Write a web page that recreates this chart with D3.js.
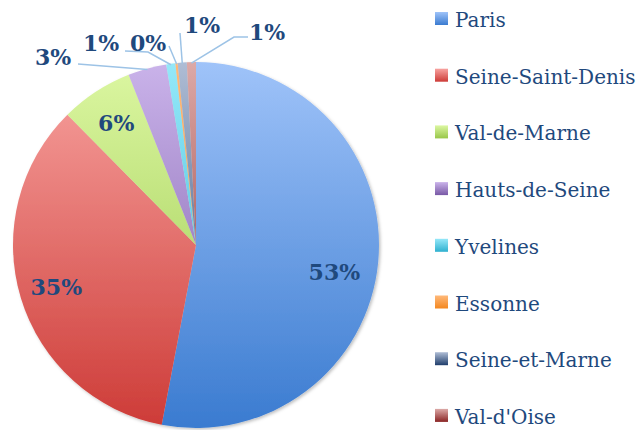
<!DOCTYPE html>
<html>
<head>
<meta charset="utf-8">
<script src="https://cdn.jsdelivr.net/npm/d3@7"></script>
<style>
  body { margin: 0; background: #fff; }
  svg { display: block; }
</style>
</head>
<body>
<div class="piechart"></div>
<script>
// data
const departements = ["Paris", "Seine-Saint-Denis", "Val-de-Marne", "Hauts-de-Seine",
                      "Yvelines", "Essonne", "Seine-et-Marne", "Val-d'Oise"];
const shares = [53.0, 34.6, 6.4, 3.4, 0.8, 0.2, 0.8, 0.8];
const colourTop = ["#9fc3f9", "#f8a3a0", "#dcf7a2", "#cab3ea", "#95e8f9", "#ffb97a", "#afbdd5", "#dca9a7"];
const colourBottom = ["#3a7bd0", "#cd3b37", "#98c649", "#7858a5", "#2eb0cf", "#f3871f", "#1f3d6b", "#8a2424"];

const width = 637, height = 430;
const cx = 196, cy = 245, radius = 183;
const labelRadius = 146;
const textColour = "#1f497d";
const leaderColour = "#9dc3e6";

// placement of the small slice labels (text centre + leader start / elbow)
const outside = {
  "Hauts-de-Seine": {x: 53, y: 57, line: [[78, 64]]},
  "Yvelines": {x: 101, y: 43, line: [[125, 51], [148, 52]]},
  "Essonne": {x: 148, y: 43, line: [[169, 46]]},
  "Seine-et-Marne": {x: 202, y: 25, line: [[180, 33]]},
  "Val-d'Oise": {x: 267, y: 32, line: [[248, 37], [234, 37]]}
};
const insideNudge = {"Paris": [-7, 13]};

const svg = d3.select(".piechart")
  .append("svg")
  .attr("width", width)
  .attr("height", height);

const defs = svg.append("defs");

// one vertical gradient per slice, spanning the whole pie (pie group coords)
departements.forEach(function(d, i) {
  const g = defs.append("linearGradient")
    .attr("id", "grad" + i)
    .attr("gradientUnits", "userSpaceOnUse")
    .attr("x1", 0).attr("x2", 0)
    .attr("y1", -radius).attr("y2", radius);
  g.append("stop").attr("offset", "0%").attr("stop-color", colourTop[i]);
  g.append("stop").attr("offset", "100%").attr("stop-color", colourBottom[i]);

  const s = defs.append("linearGradient")
    .attr("id", "sw" + i)
    .attr("x1", 0).attr("x2", 0).attr("y1", 0).attr("y2", 1);
  s.append("stop").attr("offset", "0%").attr("stop-color", colourTop[i]);
  s.append("stop").attr("offset", "100%").attr("stop-color", colourBottom[i]);
});

const shadow = defs.append("filter").attr("id", "shadow")
  .attr("x", "-10%").attr("y", "-10%").attr("width", "120%").attr("height", "120%");
shadow.append("feDropShadow")
  .attr("dx", 1.5).attr("dy", 1.5).attr("stdDeviation", 1.5)
  .attr("flood-color", "#000").attr("flood-opacity", 0.25);

const total = d3.sum(shares);
const pie = d3.pie().sort(null).value(function(d) { return d; });
const arcs = pie(shares);
const arc = d3.arc().innerRadius(0).outerRadius(radius);

const chart = svg.append("g")
  .attr("transform", "translate(" + cx + "," + cy + ")");

chart.append("g")
  .attr("filter", "url(#shadow)")
  .selectAll("path")
  .data(arcs)
  .enter()
  .append("path")
  .attr("d", arc)
  .attr("fill", function(d, i) { return "url(#grad" + i + ")"; });

const pct = function(v) { return Math.round(v / total * 100) + "%"; };

function pointAt(angle, r) {
  return [cx + r * Math.sin(angle), cy - r * Math.cos(angle)];
}

// data labels
arcs.forEach(function(d, i) {
  const name = departements[i];
  const mid = (d.startAngle + d.endAngle) / 2;
  let x, y;
  if (outside[name]) {
    const o = outside[name];
    x = o.x; y = o.y;
    const pts = o.line.concat([pointAt(mid, radius - 1)]);
    svg.append("path")
      .attr("d", d3.line()(pts))
      .attr("fill", "none")
      .attr("stroke", leaderColour)
      .attr("stroke-width", 1.5);
  } else {
    const p = pointAt(mid, labelRadius);
    const n = insideNudge[name] || [0, 0];
    x = p[0] + n[0]; y = p[1] + n[1];
  }
  svg.append("text")
    .attr("x", x)
    .attr("y", y)
    .attr("dy", "0.36em")
    .attr("text-anchor", "middle")
    .attr("font-family", "'DejaVu Serif', serif")
    .attr("font-weight", "bold")
    .attr("font-size", 22)
    .attr("fill", textColour)
    .text(pct(shares[i]));
});

// legend
const legend = svg.append("g")
  .selectAll("g")
  .data(departements)
  .enter()
  .append("g")
  .attr("transform", function(d, i) { return "translate(435," + (27 + i * 56.7) + ")"; });

legend.append("rect")
  .attr("x", 0)
  .attr("y", -15)
  .attr("width", 13)
  .attr("height", 13)
  .attr("fill", function(d, i) { return "url(#sw" + i + ")"; });

legend.append("text")
  .attr("x", 20)
  .attr("y", 0)
  .attr("font-family", "'DejaVu Serif', serif")
  .attr("font-size", 20)
  .attr("fill", textColour)
  .text(function(d) { return d; });
</script>
</body>
</html>
